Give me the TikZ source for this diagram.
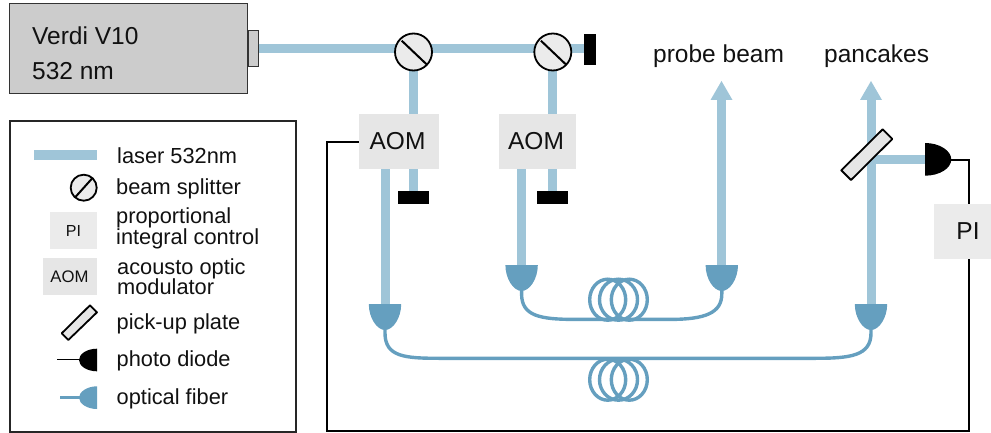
\documentclass[tikz,border=0pt]{standalone}
\usepackage{fontspec}
\usetikzlibrary{calc}
\setmainfont{Liberation Sans}
\definecolor{beamc}{HTML}{9FC5D8}
\definecolor{fiberc}{HTML}{659FBF}
\definecolor{aomc}{HTML}{E6E6E6}
\definecolor{pic}{HTML}{EBEBEB}
\definecolor{laserc}{HTML}{CCCCCC}
\definecolor{inkc}{HTML}{111111}
\tikzset{
  beam/.style={draw=beamc,line width=9pt},
  fib/.style={draw=fiberc,line width=3.4pt},
  wire/.style={draw=black,line width=1.8pt},
  lbl/.style={inner sep=0pt,anchor=base west,font=\fontsize{24.5}{24.5}\selectfont,text=inkc},
  leg/.style={inner sep=0pt,anchor=base west,font=\fontsize{21.8}{21.8}\selectfont,text=inkc},
  aombox/.style={fill=aomc,inner sep=0pt,minimum height=55pt,minimum width=80pt,font=\fontsize{24.5}{24.5}\selectfont,text=inkc},
  pibox/.style={fill=pic,inner sep=0pt,minimum height=55pt,minimum width=57pt,font=\fontsize{24.5}{24.5}\selectfont,text=inkc},
  dump/.style={fill=black,inner sep=0pt},
  splitter/.style={circle,draw=black,fill=pic,line width=1.8pt,inner sep=0pt,minimum size=37pt},
  smallsplitter/.style={splitter,minimum size=26pt},
  plate/.style={draw=black,fill=aomc,line width=1.8pt,line join=round},
  coupler/.pic={\fill[fiberc] (-16.2,0) -- (16.2,0) .. controls (16.2,14) and (8,26) .. (0,26) .. controls (-8,26) and (-16.2,14) .. (-16.2,0) -- cycle;},
  loops/.pic={\foreach \dx/\rx in {-10.8/18,0/19,10.8/18}{\draw[fib] (\dx,0) ellipse[x radius=\rx,y radius=20.5];}},
}
\begin{document}
\begin{tikzpicture}[x=1pt,y=-1pt]
\useasboundingbox (0,0) rectangle (991,433);
% laser
\node[draw=black!80,line width=1pt,fill=laserc,minimum width=238pt,minimum height=90pt,inner sep=0pt] (verdi) at (128.5,49) {};
\node[draw=black!80,line width=1pt,fill=laserc,minimum width=9.5pt,minimum height=36pt,inner sep=0pt,anchor=west] (port) at (verdi.east) {};
\node[lbl] (vt1) at (32,45) {Verdi V10};
\node[lbl] (vt2) at (32,80) {532 nm};
% element positions
\coordinate (b1) at (413.8,49);
\coordinate (b2) at (552.8,49);
\node[dump,minimum width=12pt,minimum height=31pt] (dumpr) at (589.7,49.7) {};
\node[aombox] (aom1) at (399,141.5) {\kern-3pt AOM};
\node[aombox,minimum width=77pt] (aom2) at (537.5,141.5) {\kern-3pt AOM};
\node[dump,minimum width=31pt,minimum height=12.4pt] (d1) at (413.8,197.5) {};
\node[dump,minimum width=31pt,minimum height=12.4pt] (d2) at (552.8,197.5) {};
\coordinate (c1) at (385,304);
\coordinate (c2) at (521.6,265);
\coordinate (c3) at (721.8,265);
\coordinate (c4) at (871,304);
\coordinate (arr1) at (721.5,81);
\coordinate (arr2) at (871,81);
\coordinate (split) at (871,159.5);
\coordinate (pd) at (925,159.5);
% beams
\draw[beam] (port.east |- b1) -- (b1) -- (b2) -- (dumpr.west |- b2);
\draw[beam] (b1) -- (b1 |- aom1.north);
\draw[beam] (b2) -- (b2 |- aom2.north);
\draw[beam] (b1 |- aom1.south) -- (d1.north);
\draw[beam] (b2 |- aom2.south) -- (d2.north);
\draw[beam] (c1 |- aom1.south) -- (c1);
\draw[beam] (c2 |- aom2.south) -- (c2);
\draw[beam] (c3) -- ([yshift=-18pt]c3 |- arr1);
\draw[beam] (c4) -- ([yshift=-18pt]arr2);
\draw[beam] (split) -- (pd);
\fill[beamc] (arr1) -- ++(11,19) -- ++(-22,0) -- cycle;
\fill[beamc] (arr2) -- ++(11,19) -- ++(-22,0) -- cycle;
% splitters
\node[splitter] (s1) at (413.5,52) {};
\node[splitter] (s2) at (552.8,52) {};
\draw[line width=2pt] (401.7,40.7) -- (427.3,65);
\draw[line width=2pt] (540.9,40.7) -- (566.5,65);
% fibers
\draw[fib] ([yshift=-25pt]c2) -- ++(0,4) .. controls ++(0,22) and (540,319.4) .. (575,319.4) -- (670,319.4) .. controls (705,319.4) and ($(c3)+(0,48)$) .. ([yshift=-29pt]c3) -- ([yshift=-25pt]c3);
\draw[fib] ([yshift=-25pt]c1) -- ++(0,4) .. controls ++(0,24) and (405,358.3) .. (440,358.3) -- (815,358.3) .. controls (850,358.3) and ($(c4)+(0,52)$) .. ([yshift=-29pt]c4) -- ([yshift=-25pt]c4);
\pic at (618.5,299.7) {loops};
\pic at (618.5,379.7) {loops};
\pic at (c1) {coupler};
\pic at (c2) {coupler};
\pic at (c3) {coupler};
\pic at (c4) {coupler};
% pickup plate
\draw[plate] (882.7,129.3) -- (892.3,139) -- (851,180) -- (841.3,170.3) -- cycle;
% diode
\fill[black] (925,143) -- (925,175.7) .. controls (940,175.7) and (951.3,168) .. (951.3,159.5) .. controls (951.3,151) and (940,143) .. (925,143) -- cycle;
\coordinate (pdtip) at (951.3,160);
% PI and wires
\node[pibox] (pi) at (962.5,231.5) {\kern11pt PI};
\coordinate (w1) at (969.3,160);
\coordinate (w2) at (969.3,431);
\coordinate (w3) at (327,431);
\coordinate (w4) at (327,141.7);
\draw[wire] (pdtip) -- (w1) -- (w1 |- pi.north);
\draw[wire] (w1 |- pi.south) -- (w2) -- (w3) -- (w4) -- (aom1.west |- w4);
% top labels
\node[lbl] (lprobe) at (653,63) {probe beam};
\node[lbl] (lpan) at (824,63) {pancakes};
% legend
\node[draw=black!85,line width=2.8pt,minimum width=286pt,minimum height=311pt,inner sep=0pt] (legend) at (153,276.5) {};
\draw[draw=beamc,line width=9.4pt] (34,155) -- (97,155);
\node[smallsplitter] (ls) at (83.7,187.7) {};
\draw[line width=2pt] (75,197.5) -- (92.5,178);
\node[fill=pic,inner sep=0pt,minimum width=47pt,minimum height=37pt,font=\fontsize{16}{16}\selectfont,text=inkc] (lpi) at (73.5,230.5) {PI};
\node[fill=aomc,inner sep=0pt,minimum width=54pt,minimum height=37pt,font=\fontsize{16.7}{16.7}\selectfont,text=inkc] (laom) at (70,276.5) {\kern-1pt AOM};
\draw[plate] (90,305.3) -- (97,312.3) -- (68.3,340) -- (61.7,333.3) -- cycle;
\fill[black] (97,348.7) -- (97,371.3) .. controls (87,371.3) and (79,366) .. (79,360) .. controls (79,354) and (87,348.7) .. (97,348.7) -- cycle;
\coordinate (lw) at (57,359.5);
\draw[line width=1.8pt] (lw) -- (79,359.5);
\fill[fiberc] (97,386.3) -- (97,409) .. controls (87,409) and (79,403.5) .. (79,397.7) .. controls (79,392) and (87,386.3) .. (97,386.3) -- cycle;
\coordinate (lf) at (60.3,397.7);
\draw[fib] (lf) -- (80,397.7);
\node[leg] at (117,163.3) {laser 532nm};
\node[leg] at (116,194) {beam splitter};
\node[leg] at (116,223.3) {proportional};
\node[leg] at (116,244) {integral control};
\node[leg] at (117,274) {acousto optic};
\node[leg] at (117,294) {modulator};
\node[leg] at (116.5,329) {pick-up plate};
\node[leg] at (116.5,366.7) {photo diode};
\node[leg] at (116.5,404) {optical fiber};
\end{tikzpicture}
\end{document}
